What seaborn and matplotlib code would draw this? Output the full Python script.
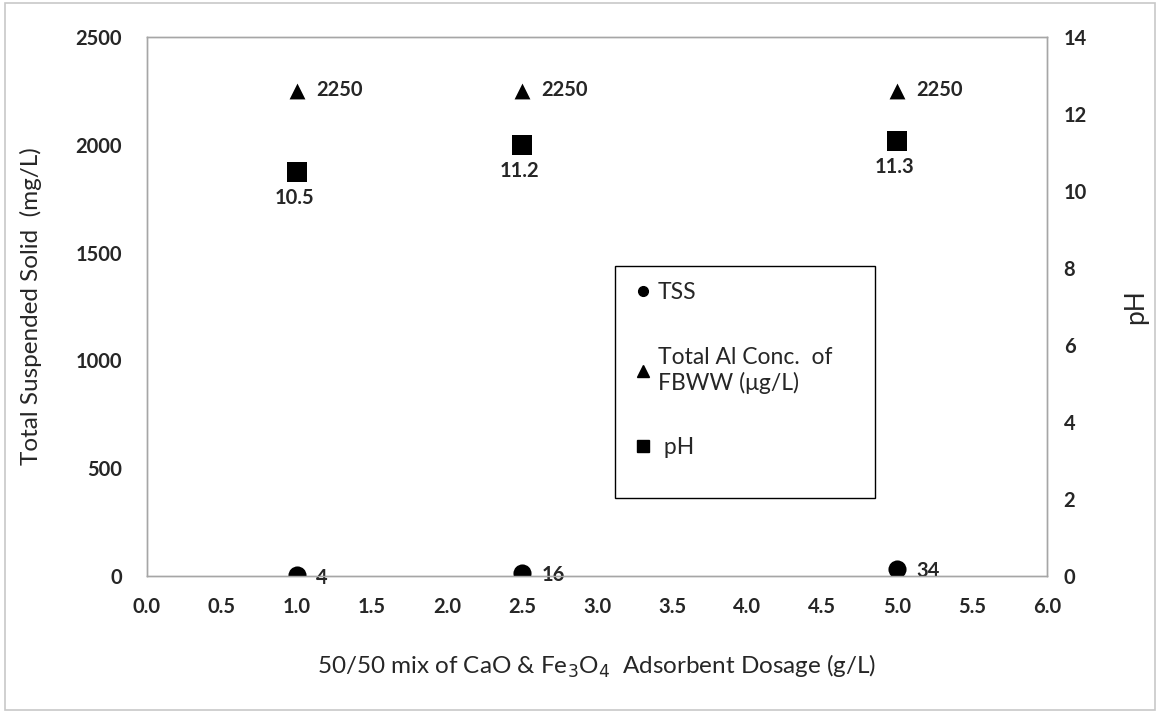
import matplotlib
matplotlib.use("Agg")
import matplotlib.pyplot as plt
import seaborn as sns
import pandas as pd
from matplotlib.lines import Line2D
from matplotlib.patches import Rectangle

dosage = [1.0, 2.5, 5.0]
tss = [4, 16, 34]
al_conc = [2250, 2250, 2250]
ph = [10.5, 11.2, 11.3]
x_ticks = [0.0, 0.5, 1.0, 1.5, 2.0, 2.5, 3.0, 3.5, 4.0, 4.5, 5.0, 5.5, 6.0]
left_ticks = [0, 500, 1000, 1500, 2000, 2500]
right_ticks = [0, 2, 4, 6, 8, 10, 12, 14]

sns.set_theme(style="white")
plt.rcParams['font.family'] = ['Lato', 'DejaVu Sans']

df = pd.DataFrame({"dosage": dosage, "tss": tss, "al": al_conc, "ph": ph})

fig = plt.figure(figsize=(11.6, 7.13), dpi=100)
ax = fig.add_axes([0.1267, 0.1921, 0.7759, 0.756])
ax2 = ax.twinx()

sns.scatterplot(data=df, x="dosage", y="tss", ax=ax, marker="o", s=170,
                color="black", edgecolor="black", linewidth=0, zorder=5)
sns.scatterplot(data=df, x="dosage", y="al", ax=ax, marker="^", s=130,
                color="black", edgecolor="black", linewidth=0, zorder=5)
sns.scatterplot(data=df, x="dosage", y="ph", ax=ax2, marker="s", s=190,
                color="black", edgecolor="black", linewidth=0, zorder=5)

for x, v in zip(dosage, tss):
    ax.annotate(f"{v}", (x, v), xytext=(14, -2), textcoords="offset points",
                fontsize=14.5, fontweight="bold", va="center", ha="left")
for x, v in zip(dosage, al_conc):
    ax.annotate(f"{v}", (x, v), xytext=(14, 1), textcoords="offset points",
                fontsize=14.5, fontweight="bold", va="center", ha="left")
for x, v in zip(dosage, ph):
    ax2.annotate(f"{v}", (x, v), xytext=(-2, -19), textcoords="offset points",
                 fontsize=14.5, fontweight="bold", va="center", ha="center")

ax.set_xlim(0, 6)
ax.set_ylim(0, 2500)
ax2.set_ylim(0, 14)
ax.set_xticks(x_ticks)
ax.set_xticklabels([f"{t:.1f}" for t in x_ticks])
ax.set_yticks(left_ticks)
ax2.set_yticks(right_ticks)

ax.tick_params(axis="x", length=0, pad=15, labelsize=14.5)
ax.tick_params(axis="y", length=0, pad=18, labelsize=14.5)
ax2.tick_params(axis="y", length=0, pad=12, labelsize=14.5)
for lab in ax.get_xticklabels() + ax.get_yticklabels() + ax2.get_yticklabels():
    lab.set_fontweight("bold")

ax.set_xlabel(r"50/50 mix of CaO & Fe$_3$O$_4$  Adsorbent Dosage (g/L)",
              fontsize=17.5, labelpad=26)
ax.set_ylabel("Total Suspended Solid  (mg/L)", fontsize=17.5, labelpad=24)
ax2.set_ylabel("pH", fontsize=19, rotation=90, labelpad=26, va="top")

for a in (ax, ax2):
    for sp in a.spines.values():
        sp.set_color("#a6a6a6")
        sp.set_linewidth(1.0)
ax.grid(False)
ax2.grid(False)

# legend box
ax.add_patch(Rectangle((0.52, 0.1447), 0.289, 0.4303, transform=ax.transAxes,
                       fill=False, edgecolor="black", linewidth=1.0, zorder=9))

handles = [
    Line2D([], [], marker="o", color="black", linestyle="none", markersize=7),
    Line2D([], [], marker="^", color="black", linestyle="none", markersize=9),
    Line2D([], [], marker="s", color="black", linestyle="none", markersize=9),
]
labels = ["TSS", "Total Al Conc.  of\nFBWW (\u03bcg/L)", " pH"]
leg = ax.legend(handles, labels, loc="upper left",
                bbox_to_anchor=(0.538, 0.545), bbox_transform=ax.transAxes,
                frameon=False, fontsize=16.5, labelspacing=1.9,
                handletextpad=0.15, handlelength=1.0, borderpad=0,
                borderaxespad=0)
leg.set_zorder(10)

fig.patches.append(Rectangle((0.004, 0.004), 0.992, 0.992, transform=fig.transFigure,
                             fill=False, edgecolor="#c8c8c8", linewidth=1.2))

fig.savefig("out.png", dpi=100)
